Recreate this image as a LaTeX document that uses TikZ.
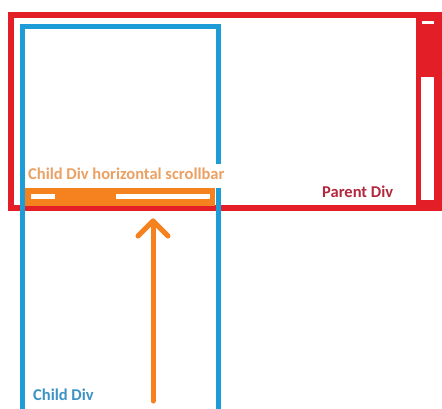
\documentclass[tikz,border=0pt]{standalone}
\usepackage{fontspec}
\setmainfont{Carlito}
\definecolor{parentred}{HTML}{E31E26}
\definecolor{childblue}{HTML}{1E9CD8}
\definecolor{barorange}{HTML}{F5821F}
\definecolor{labelorange}{HTML}{EAA163}
\definecolor{labelred}{HTML}{B3273D}
\definecolor{labelblue}{HTML}{3B92C4}

\begin{document}
\begin{tikzpicture}[
  x=1pt, y=-1pt,
  parentbox/.style={draw=parentred,line width=5.5pt},
  childbox/.style={draw=childblue,line width=5pt},
  thumb/.style={fill=white},
  divlabel/.style={font=\bfseries\fontsize{16.5}{18}\selectfont,inner sep=0pt,anchor=base west}
]
  \useasboundingbox (0,0) rectangle (442,408);
  \clip (0,0) rectangle (442,408);
  % parent div with its vertical scrollbar
  \draw[parentbox] (11,14.8) rectangle (450,208);
  \fill[parentred] (416,12) rectangle (442,211);
  \fill[thumb] (422,21) rectangle (434,24);
  \fill[thumb] (421,77) rectangle (434,200);
  % child div horizontal scrollbar
  \fill[barorange] (25,188) rectangle (215,205.5);
  \fill[thumb] (31,194) rectangle (55,199);
  \fill[thumb] (116,194) rectangle (210,199);
  % child div
  \draw[childbox] (22.5,26.5) rectangle (218.5,412);
  \node[divlabel,fill=white,inner xsep=1pt,text height=15pt,text depth=8.5pt,text=labelorange] (scrolllabel) at (27,179) {Child Div horizontal scrollbar};
  \node[divlabel,text=labelred] (parentlabel) at (322,197) {Parent Div};
  \node[divlabel,text=labelblue] (childlabel) at (33,400) {Child Div};
  % arrow up to the scrollbar
  \coordinate (arrowtail) at (153,401);
  \coordinate (arrowtip) at (153,221);
  \draw[barorange,line width=5pt,line cap=round] (arrowtail) -- (arrowtip);
  \draw[barorange,line width=5pt,line cap=round,line join=round] (138,236) -- (arrowtip) -- (168,236);
\end{tikzpicture}
\end{document}
